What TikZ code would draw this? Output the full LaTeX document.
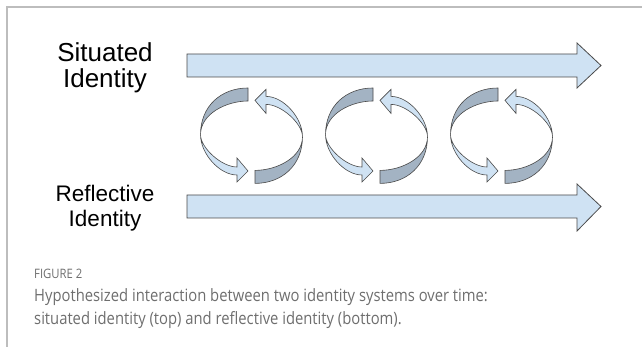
\documentclass[tikz,border=0pt]{standalone}
\usepackage{fontspec}
\setmainfont{Liberation Sans}
\newfontfamily\capfont[FakeStretch=0.87]{Open Sans}
\definecolor{lightfill}{HTML}{CFE2F3}
\definecolor{darkfill}{HTML}{A3B3C3}
\definecolor{edgegray}{HTML}{4A4A4A}
\definecolor{framegray}{HTML}{BDBDBD}
\definecolor{capgray}{HTML}{6E6E6E}
\tikzset{
  bigarrow/.style={fill=lightfill, draw=edgegray, line width=0.8pt, line join=miter},
  ribbon/.style={draw=edgegray, line width=0.6pt, line join=miter},
  halfturn/.pic={
    \path[ribbon, fill=darkfill] (-3.5,47.7) .. controls (-30,47.7) and (-51,30) .. (-51,1)
      .. controls (-51,22) and (-25,34.7) .. (-3.5,34.7) -- cycle;
    \path[ribbon, fill=lightfill] (-51,1) .. controls (-51,-12) and (-30,-31.3) .. (-14.5,-31.3)
      -- (-14.5,-22.3) -- (-3.5,-35.3) -- (-14.5,-46.3) -- (-14.5,-39.3)
      .. controls (-32,-39.3) and (-51,-18) .. (-51,1) -- cycle;
  },
  cyclepair/.pic={
    \pic {halfturn};
    \pic[rotate=180] {halfturn};
  },
  lbl/.style={align=center, inner sep=0pt},
  captext/.style={anchor=base west, inner sep=0pt, text=capgray, font=\capfont}
}
\begin{document}
\begin{tikzpicture}[x=1pt,y=1pt]
\useasboundingbox (0,0) rectangle (642,347);
\draw[framegray, line width=1.2pt] (7,0) -- (7,340) -- (642,340);

% big arrows
\path[bigarrow] (187,293) -- (577,293) -- (577,304) -- (601,281.5) -- (577,259) -- (577,270) -- (187,270) -- cycle;
\path[bigarrow] (187,152) -- (577,152) -- (577,163) -- (601,140.5) -- (577,116) -- (577,129) -- (187,129) -- cycle;

% labels (base anchor = baseline of last line)
\node[lbl, font=\fontsize{26}{26}\selectfont, anchor=base] (sit) at (105,259.5) {Situated\\Identity};
\node[lbl, font=\fontsize{22.5}{25}\selectfont, anchor=base] (ref) at (105,120.5) {Reflective\\Identity};

% cycles
\pic at (251.5,211.3) {cyclepair};
\pic at (376.5,211.3) {cyclepair};
\pic at (501.5,211.3) {cyclepair};

% caption
\node[captext, font=\capfont\fontsize{13}{13}\selectfont] (fig) at (34,68.7) {FIGURE 2};
\node[captext, font=\capfont\fontsize{17}{17}\selectfont] (c1) at (34,45.3) {Hypothesized interaction between two identity systems over time:};
\node[captext, font=\capfont\fontsize{17}{17}\selectfont] (c2) at (34,22) {situated identity (top) and reflective identity (bottom).};
\end{tikzpicture}
\end{document}
